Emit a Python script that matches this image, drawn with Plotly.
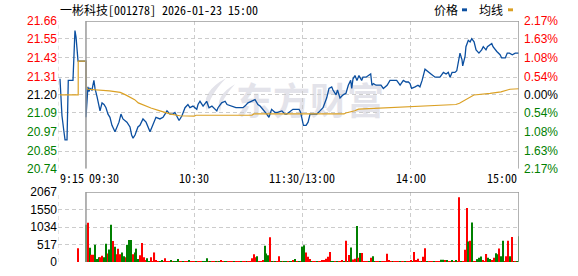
import plotly.graph_objects as go

# ---------------- data ----------------
title_text = "一彬科技[001278] 2026-01-23 15:00"
prev_close = 21.20
price_ticks = [21.66, 21.55, 21.43, 21.31, 21.20, 21.09, 20.97, 20.85, 20.74]
pct_labels = ["2.17%", "1.63%", "1.08%", "0.54%", "0.00%", "0.54%", "1.08%", "1.63%", "2.17%"]
vol_ticks = [0, 517, 1034, 1550, 2067]
time_ticks = [-15, 0, 60, 120, 180, 240]
time_labels = ["9:15", "09:30", "10:30", "11:30/13:00", "14:00", "15:00"]

# pre-market auction (minutes relative to 09:30)
pre_t = [-14.4, -13.9, -13.3, -12.2, -11.6, -10.5, -10.3, -10.0, -9.8, -7.2, -6.9, -6.1, -5.5, -5.0, -4.4, 0]
pre_p = [21.30, 21.18, 21.07, 20.97, 20.92, 20.92, 21.09, 21.20, 21.29, 21.29, 21.38, 21.60, 21.56, 21.50, 21.41, 21.41]
pre_avg_t = [-14.4, -4.3, -4.3, 0]
pre_avg_p = [21.20, 21.20, 21.41, 21.41]
pre_vol_t = [-4.3]
pre_vol = [407]

# continuous session (minutes after 09:30, lunch break collapsed)
main_t = [0, 1.1, 1.7, 2.2, 3.3, 4.4, 5.0, 6.1, 7.2, 7.8,
          8.9, 10.0, 11.1, 12.2, 13.3, 14.4, 16.1, 17.2, 18.3, 19.4,
          20.5, 22.7, 24.4, 25.3, 26.1, 27.2, 28.8, 29.9, 31.6, 33.3,
          34.4, 35.5, 36.6, 38.8, 41.0, 42.7, 43.8, 44.9, 46.6, 48.2,
          49.3, 51.6, 53.2, 54.9, 56.5, 57.6, 59.3, 61.4, 62.1, 63.2,
          64.9, 66.9, 68.2, 69.8, 72.5, 73.2, 75.2, 77.1, 78.2, 80.8,
          81.5, 83.1, 85.4, 87.0, 88.1, 89.8, 93.7, 94.8, 95.3, 96.5,
          98.1, 100.2, 101.4, 102.9, 104.8, 105.7, 108.6, 110.3, 111.3, 114.7,
          116.4, 118.1, 119.0, 119.7, 120.5, 122.0, 123.1, 124.2, 125.8, 127.9,
          129.7, 131.4, 133.4, 134.7, 136.2, 136.9, 138.6, 139.4, 140.8, 142.5,
          144.1, 145.4, 146.7, 147.3, 148.0, 149.1, 150.2, 151.3, 152.8, 153.5,
          155.2, 156.9, 157.8, 158.5, 159.3, 160.8, 161.9, 163.5, 164.8, 166.9,
          168.5, 170.7, 172.2, 174.1, 175.9, 177.4, 178.7, 179.6, 180.5, 182.4,
          184.0, 185.1, 186.3, 187.9, 189.8, 191.2, 193.5, 194.6, 196.2, 198.1,
          199.6, 200.8, 201.8, 202.9, 204.5, 205.5, 206.4, 207.3, 208.4, 208.8,
          210.1, 210.6, 211.9, 212.9, 213.8, 215.1, 216.2, 217.8, 219.3, 220.2,
          221.7, 222.5, 224.9, 225.6, 227.7, 229.5, 230.4, 232.4, 233.5, 234.7,
          236.3, 237.9, 240]
main_p = [21.06, 21.25, 21.22, 21.24, 21.23, 21.29, 21.24, 21.19, 21.13, 21.10,
          21.15, 21.14, 21.12, 21.08, 21.06, 21.01, 20.97, 21.00, 21.03, 21.08,
          21.05, 21.03, 21.00, 20.95, 20.93, 20.95, 21.00, 21.01, 21.05, 21.03,
          21.00, 20.97, 21.00, 21.06, 21.05, 21.06, 21.08, 21.10, 21.08, 21.08,
          21.09, 21.04, 21.07, 21.12, 21.14, 21.12, 21.13, 21.11, 21.14, 21.16,
          21.13, 21.16, 21.12, 21.13, 21.10, 21.12, 21.15, 21.16, 21.14, 21.13,
          21.13, 21.12, 21.12, 21.12, 21.13, 21.15, 21.17, 21.15, 21.14, 21.13,
          21.11, 21.08, 21.06, 21.11, 21.09, 21.09, 21.10, 21.08, 21.08, 21.11,
          21.11, 21.11, 21.09, 21.04, 21.01, 21.01, 21.03, 21.08, 21.08, 21.08,
          21.10, 21.12, 21.18, 21.24, 21.25, 21.23, 21.20, 21.23, 21.18, 21.20,
          21.21, 21.26, 21.29, 21.24, 21.30, 21.32, 21.29, 21.32, 21.29, 21.31,
          21.31, 21.32, 21.33, 21.26, 21.27, 21.26, 21.26, 21.26, 21.24, 21.26,
          21.29, 21.29, 21.29, 21.26, 21.29, 21.28, 21.28, 21.27, 21.24, 21.25,
          21.26, 21.25, 21.29, 21.36, 21.34, 21.33, 21.31, 21.31, 21.31, 21.34,
          21.33, 21.34, 21.31, 21.34, 21.34, 21.35, 21.42, 21.46, 21.42, 21.38,
          21.44, 21.50, 21.54, 21.53, 21.55, 21.53, 21.48, 21.46, 21.48, 21.50,
          21.48, 21.50, 21.52, 21.50, 21.47, 21.45, 21.43, 21.43, 21.46, 21.46,
          21.45, 21.46, 21.46]

avg_t = [0, 1, 13, 19, 22, 25, 27, 29, 31, 33, 36, 41, 44, 47, 52, 60, 61, 92, 93,
         143, 144, 146, 149, 151, 163, 171, 184, 191, 205, 207, 209, 212, 215,
         224, 230, 235, 240]
avg_p = [21.252, 21.235, 21.225, 21.215, 21.200, 21.185, 21.170, 21.150, 21.140,
         21.130, 21.118, 21.100, 21.090, 21.080, 21.070, 21.067, 21.073, 21.073,
         21.081, 21.081, 21.087, 21.091, 21.101, 21.111, 21.118, 21.122, 21.128,
         21.134, 21.140, 21.148, 21.162, 21.183, 21.199, 21.209, 21.219, 21.235,
         21.238]

# per-minute volume (09:30 .. 15:00, 241 minutes)
vol = [1100, 1156, 423, 216, 216, 508, 85, 141, 141, 188,
       141, 536, 254, 367, 1100, 620, 451, 226, 395, 226,
       282, 169, 141, 508, 649, 649, 226, 282, 395, 85,
       197, 564, 141, 56, 113, 28, 141, 28, 282, 56,
       28, 28, 56, 28, 113, 28, 28, 56, 28, 28,
       28, 85, 28, 28, 28, 28, 28, 56, 28, 28,
       28, 28, 28, 28, 28, 28, 28, 113, 28, 28,
       28, 28, 28, 28, 28, 56, 28, 28, 28, 28,
       28, 28, 28, 28, 28, 28, 28, 28, 28, 28,
       28, 28, 113, 226, 141, 169, 28, 28, 56, 480,
       254, 197, 733, 28, 28, 28, 28, 169, 28, 28,
       28, 28, 28, 28, 28, 56, 85, 28, 28, 28,
       455, 493, 284, 152, 85, 28, 28, 28, 28, 28,
       28, 56, 40, 95, 152, 294, 28, 28, 28, 28,
       28, 28, 50, 28, 626, 28, 208, 427, 76, 95,
       1062, 123, 265, 265, 28, 28, 28, 28, 123, 171,
       28, 28, 28, 28, 28, 28, 28, 246, 56, 28,
       28, 28, 28, 28, 28, 28, 28, 28, 28, 28,
       40, 28, 294, 57, 95, 28, 28, 152, 408, 28,
       28, 28, 28, 28, 28, 28, 28, 66, 66, 40,
       40, 28, 28, 40, 28, 40, 28, 1915, 28, 28,
       360, 1593, 607, 626, 1166, 28, 28, 85, 123, 161,
       40, 28, 237, 123, 85, 50, 123, 256, 227, 398,
       171, 626, 28, 171, 626, 171, 739, 28, 28, 28,
       758]
# r = up minute, g = down minute
vol_dir = ("grgrrgggrr" "ggrggrgrrr" "ggrgggrggg" "rrrrggrrrr" "rggrrrrgrg"
           "ggrrgrrgrr" "rgrrrgggrg" "rrgrgrrggr" "rrgrrrgrrg" "rrrrrgrrrg"
           "ggrgrgrrgr" "ggrggrgrgr" "ggrrrgrrgr" "rrrrrrggrg" "rrrgrgrgrr"
           "grgrrrrgrg" "grrgrrrrrr" "grrrgrrgrr" "rgrrrrgrrg" "rrrgrrrggr"
           "grrgrgrrgr" "rrgrgrrggg" "rrrggrrggr" "ggrrrgrgrg" "g")
pre_vol_dir = "r"

# ---------------- style ----------------
W, H = 578, 276
L, R, T, B = 58, 59, 21, 7
PW, PH = W - L - R, H - T - B
BLUE = "#0b4fa0"
ORANGE = "#dba125"
RED = "#ff0000"
GREEN = "#008000"
GRID = "#cccccc"
BORDER = "#9a9a9a"
WATER = "#e3e3ea"
NUM_FONT = "Liberation Sans, Arial, sans-serif"
CJK_FONT = "Noto Sans Mono CJK SC, Noto Sans CJK SC, sans-serif"


def px_x(px):
    return (px - L) / PW


def px_y(py):
    return (H - B - py) / PH


def px_path(cmds):
    out = []
    for c in cmds:
        if isinstance(c, str):
            out.append(c)
        else:
            out.append("%.4f,%.4f" % (px_x(c[0]), px_y(c[1])))
    return " ".join(out)


main_dom = [px_y(173), 1]
vol_dom = [0, px_y(197)]


def colour_for(v):
    if abs(v - prev_close) < 1e-9:
        return "#000000"
    return RED if v > prev_close else GREEN


price_text = ['<span style="color:%s">%.2f</span>' % (colour_for(v), v) for v in price_ticks]
pct_text = ['<span style="color:%s">%s</span>' % (colour_for(v), s) for v, s in zip(price_ticks, pct_labels)]

bar_colors = [RED if c == "r" else GREEN for c in pre_vol_dir + vol_dir]
vol_t = pre_vol_t + list(range(len(vol)))

fig = go.Figure()
fig.add_trace(go.Scatter(x=pre_t + main_t, y=pre_p + main_p, mode="lines",
                         line=dict(color=BLUE, width=1.3), xaxis="x", yaxis="y",
                         hoverinfo="skip"))
fig.add_trace(go.Scatter(x=pre_avg_t + avg_t, y=pre_avg_p + avg_p, mode="lines",
                         line=dict(color=ORANGE, width=1.2), xaxis="x", yaxis="y",
                         hoverinfo="skip"))
fig.add_trace(go.Bar(x=vol_t, y=pre_vol + vol, marker=dict(color=bar_colors, line=dict(width=0)),
                     width=0.6, xaxis="x2", yaxis="y2", hoverinfo="skip"))
fig.add_trace(go.Scatter(x=[0], y=[prev_close], mode="markers", marker=dict(opacity=0),
                         xaxis="x", yaxis="y3", hoverinfo="skip"))

grid_common = dict(showgrid=True, gridcolor=GRID, griddash="4px,3px", gridwidth=1,
                   zeroline=False, showline=False, ticks="")

fig.update_layout(
    width=W, height=H, margin=dict(l=L, r=R, t=T, b=B, pad=0),
    paper_bgcolor="white", plot_bgcolor="white", showlegend=False,
    xaxis=dict(domain=[0, 1], range=[-15.5, 240], tickvals=time_ticks[2:5],
               showticklabels=False, anchor="y", **grid_common),
    xaxis2=dict(domain=[0, 1], range=[-15.5, 240], tickvals=time_ticks[2:5],
                showticklabels=False, anchor="y2", matches="x", **grid_common),
    yaxis=dict(domain=main_dom, range=[price_ticks[-1], price_ticks[0]], tickvals=price_ticks,
               ticktext=price_text, tickfont=dict(family=NUM_FONT, size=12), anchor="x",
               **grid_common),
    yaxis3=dict(overlaying="y", side="right", anchor="x", range=[price_ticks[-1], price_ticks[0]],
                tickvals=price_ticks, ticktext=pct_text, showgrid=False, zeroline=False,
                showline=False, ticks="", ticklabelstandoff=4,
                tickfont=dict(family=NUM_FONT, size=12)),
    yaxis2=dict(domain=vol_dom, range=[vol_ticks[0], vol_ticks[-1]], tickvals=vol_ticks,
                ticktext=[str(v) for v in vol_ticks], anchor="x2",
                tickfont=dict(family=NUM_FONT, size=12, color="#000000"), **grid_common),
)

# borders (solid over the session, dashed at left of pre-market)
shapes = []
for ya, lo, hi in (("y", price_ticks[-1], price_ticks[0]), ("y2", vol_ticks[0], vol_ticks[-1])):
    xa = "x" if ya == "y" else "x2"
    shapes.append(dict(type="line", xref=xa, yref=ya, x0=0, x1=240, y0=hi, y1=hi,
                       line=dict(color=BORDER, width=1.5)))
    shapes.append(dict(type="line", xref=xa, yref=ya, x0=0, x1=0, y0=lo, y1=hi,
                       line=dict(color=BORDER, width=1.5)))
    shapes.append(dict(type="line", xref=xa, yref=ya, x0=240, x1=240, y0=lo, y1=hi,
                       line=dict(color=BORDER, width=1.5)))
    shapes.append(dict(type="line", xref=xa, yref=ya, x0=-15.5, x1=-15.5, y0=lo, y1=hi,
                       line=dict(color=GRID, width=1, dash="4px,3px")))

# legend dashes in header
shapes.append(dict(type="rect", xref="paper", yref="paper", x0=px_x(462), x1=px_x(467),
                   y0=px_y(11), y1=px_y(8), fillcolor=BLUE, line=dict(width=0)))
shapes.append(dict(type="rect", xref="paper", yref="paper", x0=px_x(508), x1=px_x(513),
                   y0=px_y(11), y1=px_y(8), fillcolor=ORANGE, line=dict(width=0)))
# watermark logo (two swooshes) and text
shapes.append(dict(type="path", xref="paper", yref="paper", layer="below",
                   path=px_path(["M", (226, 80), "Q", (200, 94), (207, 114), "Q", (209, 98), (226, 80), "Z"]),
                   fillcolor=WATER, line=dict(width=0)))
shapes.append(dict(type="path", xref="paper", yref="paper", layer="below",
                   path=px_path(["M", (235, 86), "Q", (214, 98), (220, 115), "Q", (221, 101), (235, 86), "Z"]),
                   fillcolor=WATER, line=dict(width=0)))
shapes.append(dict(type="rect", xref="paper", yref="paper", x0=px_x(238), x1=px_x(382),
                   y0=px_y(126), y1=px_y(88), layer="below", line=dict(width=0),
                   fillcolor="rgba(0,0,0,0)",
                   label=dict(text="<b>东方财富</b>", textposition="middle center",
                              xanchor="center", yanchor="middle",
                              font=dict(family="Noto Sans CJK SC", size=37, color=WATER))))
fig.update_layout(shapes=shapes)

ann = []
ann.append(dict(text=title_text, xref="paper", yref="paper", x=0, y=px_y(9), xanchor="left",
                yanchor="middle", showarrow=False, font=dict(family=CJK_FONT, size=12, color="#000")))
ann.append(dict(text="价格", xref="paper", yref="paper", x=px_x(432), y=px_y(9), xanchor="left",
                yanchor="middle", showarrow=False, font=dict(family=CJK_FONT, size=12, color="#000")))
ann.append(dict(text="均线", xref="paper", yref="paper", x=px_x(477), y=px_y(9), xanchor="left",
                yanchor="middle", showarrow=False, font=dict(family=CJK_FONT, size=12, color="#000")))
anchors = ["left", "left", "center", "center", "center", "right"]
for t, lab, a in zip(time_ticks, time_labels, anchors):
    xv = -15.5 if t == -15 else t
    ann.append(dict(text=lab, xref="x", yref="paper", x=xv, y=px_y(182), xanchor=a,
                    yanchor="middle", showarrow=False, xshift=(1 if t == 0 else 0),
                    font=dict(family=CJK_FONT, size=12, color="#000")))
fig.update_layout(annotations=ann)

fig.write_html("out.html")
